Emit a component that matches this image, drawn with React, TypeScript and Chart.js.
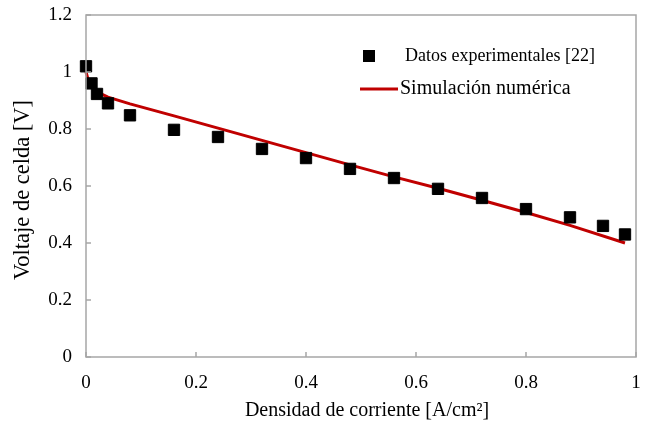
import React, { useEffect, useRef } from 'react';
import { Chart, registerables } from 'chart.js';

Chart.register(...registerables);

const expX = [0, 0.01, 0.02, 0.04, 0.08, 0.16, 0.24, 0.32, 0.40, 0.48, 0.56, 0.64, 0.72, 0.80, 0.88, 0.94, 0.98];
const expY = [1.02, 0.96, 0.923, 0.89, 0.848, 0.797, 0.772, 0.73, 0.698, 0.66, 0.628, 0.59, 0.558, 0.519, 0.49, 0.46, 0.43];
const simX = [0, 0.005, 0.01, 0.02, 0.04, 0.08, 0.16, 0.24, 0.32, 0.40, 0.48, 0.56, 0.64, 0.72, 0.80, 0.88, 0.98];
const simY = [1.0, 0.965, 0.948, 0.93, 0.912, 0.888, 0.846, 0.803, 0.76, 0.717, 0.674, 0.632, 0.592, 0.55, 0.507, 0.462, 0.40];
const xTicks = [0, 0.2, 0.4, 0.6, 0.8, 1];
const yTicks = [0, 0.2, 0.4, 0.6, 0.8, 1, 1.2];
const seriesNames = ['Datos experimentales [22]', 'Simulación numérica'];
const xTitle = 'Densidad de corriente [A/cm²]';
const yTitle = 'Voltaje de celda [V]';

const FONT = "'Liberation Serif', 'Times New Roman', serif";
const RED = '#c00000';
const BORDER = '#a6a6a6';

const framePlugin = {
  id: 'frame',
  afterDraw(chart: any) {
    const { ctx, chartArea: a, scales } = chart;
    ctx.save();
    ctx.strokeStyle = BORDER;
    ctx.lineWidth = 1.5;
    ctx.strokeRect(a.left, a.top, a.right - a.left, a.bottom - a.top);
    ctx.beginPath();
    xTicks.forEach((v) => {
      const px = scales.x.getPixelForValue(v);
      ctx.moveTo(px, a.bottom);
      ctx.lineTo(px, a.bottom - 5);
    });
    yTicks.forEach((v) => {
      const py = scales.y.getPixelForValue(v);
      ctx.moveTo(a.left, py);
      ctx.lineTo(a.left + 5, py);
    });
    ctx.stroke();

    // legend
    ctx.fillStyle = '#000';
    ctx.fillRect(363, 50, 12, 12);
    ctx.strokeStyle = RED;
    ctx.lineWidth = 3;
    ctx.beginPath();
    ctx.moveTo(360, 89);
    ctx.lineTo(398, 89);
    ctx.stroke();
    ctx.textBaseline = 'middle';
    ctx.textAlign = 'left';
    ctx.fillStyle = '#000';
    ctx.font = `18px ${FONT}`;
    ctx.fillText(seriesNames[0], 405, 56);
    ctx.font = `20px ${FONT}`;
    ctx.fillText(seriesNames[1], 400, 89);

    // axis titles
    ctx.textAlign = 'center';
    ctx.font = `20px ${FONT}`;
    ctx.fillText(xTitle, 367, 411);
    ctx.translate(23, 190);
    ctx.rotate(-Math.PI / 2);
    ctx.font = `22.5px ${FONT}`;
    ctx.fillText(yTitle, 0, 0);
    ctx.restore();
  },
};

export default function App() {
  const ref = useRef<HTMLCanvasElement | null>(null);
  useEffect(() => {
    document.body.style.margin = '0';
    const canvas = ref.current!;
    const chart = new Chart(canvas, {
      type: 'scatter',
      data: {
        datasets: [
          {
            label: seriesNames[0],
            data: expX.map((x, i) => ({ x, y: expY[i] })),
            pointStyle: 'rect',
            pointRadius: 8,
            pointBackgroundColor: '#000',
            pointBorderColor: '#000',
            pointBorderWidth: 1,
            showLine: false,
            clip: false,
          },
          {
            label: seriesNames[1],
            data: simX.map((x, i) => ({ x, y: simY[i] })),
            showLine: true,
            borderColor: RED,
            borderWidth: 3,
            pointRadius: 0,
            tension: 0,
            clip: false,
          },
        ],
      },
      options: {
        animation: false,
        responsive: false,
        devicePixelRatio: 1,
        layout: { padding: { top: 15, right: 13, left: 0, bottom: 0 } },
        plugins: { legend: { display: false }, tooltip: { enabled: false } },
        scales: {
          x: {
            type: 'linear',
            min: 0,
            max: 1,
            afterFit: (s: any) => { s.height = 77; s.paddingLeft = 0; s.paddingRight = 0; },
            afterBuildTicks: (s: any) => { s.ticks = xTicks.map((v) => ({ value: v })); },
            grid: { display: false, drawTicks: false },
            border: { display: false },
            ticks: {
              color: '#000',
              font: { family: FONT, size: 19 },
              padding: 15,
              callback: (v: any) => String(+Number(v).toFixed(1)),
            },
            title: { display: false },
          },
          y: {
            type: 'linear',
            min: 0,
            max: 1.2,
            afterFit: (s: any) => { s.width = 86; s.paddingTop = 0; s.paddingBottom = 0; },
            afterBuildTicks: (s: any) => { s.ticks = yTicks.map((v) => ({ value: v })); },
            grid: { display: false, drawTicks: false },
            border: { display: false },
            ticks: {
              color: '#000',
              font: { family: FONT, size: 19 },
              padding: 14,
              callback: (v: any) => String(+Number(v).toFixed(1)),
            },
            title: { display: false },
          },
        },
      },
      plugins: [framePlugin],
    });
    return () => chart.destroy();
  }, []);
  return (
    <div style={{ position: 'fixed', left: 0, top: 0, width: 649, height: 434, background: '#fff' }}>
      <canvas ref={ref} width={649} height={434} style={{ width: 649, height: 434 }} />
    </div>
  );
}
